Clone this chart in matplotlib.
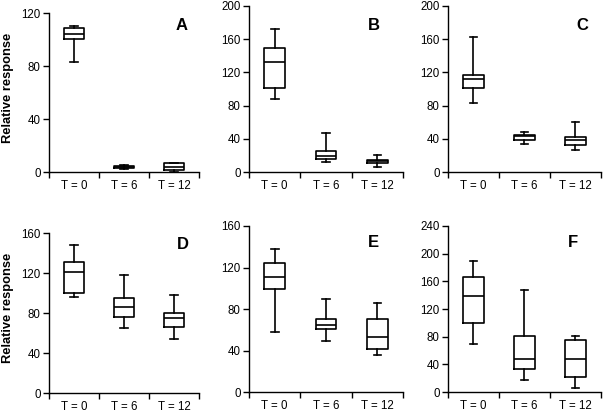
import matplotlib
matplotlib.use("Agg")
import matplotlib.pyplot as plt
from matplotlib.ticker import FixedLocator

plt.rcParams['font.family'] = ['Liberation Sans', 'DejaVu Sans']

groups = ["T = 0", "T = 6", "T = 12"]

# five-number summaries per group: [whisker low, q1, median, q3, whisker high]
stats_A = [[83, 100.5, 104.5, 109, 110], [2, 3, 3.5, 4.5, 5], [0, 1.5, 3.5, 6.5, 7]]
stats_B = [[88, 101, 133, 149, 172], [12.5, 15.3, 19.3, 25.4, 47.5], [6, 11, 13, 14, 21]]
stats_C = [[83, 101, 112.5, 116.5, 162.5], [33.5, 38.7, 43, 45, 48.4], [26, 32, 38, 42, 59.7]]
stats_D = [[96.4, 99.7, 121.2, 131.2, 148.3], [65.3, 76.3, 85.7, 95.4, 117.8], [54.2, 66.3, 74.6, 80.3, 98.4]]
stats_E = [[58.3, 99.2, 110.8, 124.3, 137.5], [49.3, 60.9, 65, 70.5, 89.5], [36, 41.5, 52.8, 70.5, 86]]
stats_F = [[69, 100.4, 139, 165.6, 188.8], [16.9, 33.3, 47.3, 80.6, 147.3], [5.8, 22.2, 47.3, 75.3, 80.6]]

panels = [
    # letter, stats, ymax, ystep, axes rect, letter pos
    ("A", stats_A, 120, 40, [0.0811, 0.5835, 0.2483, 0.385], (0.887, 0.92)),
    ("B", stats_B, 200, 40, [0.4123, 0.5835, 0.255, 0.402], (0.81, 0.88)),
    ("C", stats_C, 200, 40, [0.7417, 0.5835, 0.253, 0.402], (0.88, 0.88)),
    ("D", stats_D, 160, 40, [0.0811, 0.0484, 0.2483, 0.387], (0.89, 0.93)),
    ("E", stats_E, 160, 40, [0.4123, 0.0508, 0.255, 0.402], (0.81, 0.90)),
    ("F", stats_F, 240, 40, [0.7417, 0.0508, 0.253, 0.402], (0.82, 0.90)),
]

fig = plt.figure(figsize=(6.04, 4.13), dpi=100)

for letter, stats, ymax, ystep, rect, lpos in panels:
    ax = fig.add_axes(rect)
    bxp_stats = []
    for s, name in zip(stats, groups):
        bxp_stats.append({"whislo": s[0], "q1": s[1], "med": s[2], "q3": s[3],
                          "whishi": s[4], "label": name, "fliers": []})
    lw = 1.2
    ax.bxp(bxp_stats, positions=[1, 2, 3], widths=0.4, showfliers=False,
           boxprops=dict(color="black", linewidth=lw),
           medianprops=dict(color="black", linewidth=lw),
           whiskerprops=dict(color="black", linewidth=lw),
           capprops=dict(color="black", linewidth=lw),
           capwidths=0.15)
    ax.set_xlim(0.5, 3.5)
    ax.set_ylim(0, ymax)
    ax.set_yticks(range(0, ymax + 1, ystep))
    ax.set_xticks([1, 2, 3])
    ax.set_xticklabels(groups)
    ax.xaxis.set_minor_locator(FixedLocator([0.5, 1.5, 2.5, 3.5]))
    ax.tick_params(axis="x", which="major", length=0, labelsize=8.3, pad=6)
    ax.tick_params(axis="x", which="minor", length=4, width=1, direction="out")
    ax.tick_params(axis="y", length=4, width=1, labelsize=8.3, pad=2)
    for side in ["top", "right"]:
        ax.spines[side].set_visible(False)
    for side in ["left", "bottom"]:
        ax.spines[side].set_linewidth(1)
    ax.text(lpos[0], lpos[1], letter, transform=ax.transAxes, fontsize=12,
            fontweight="bold", ha="center", va="center")

fig.text(0.014, 1 - 88 / 413, "Relative response", rotation=90, fontsize=9.3,
         fontweight="bold", ha="center", va="center")
fig.text(0.014, 1 - 308 / 413, "Relative response", rotation=90, fontsize=9.3,
         fontweight="bold", ha="center", va="center")

fig.savefig("out.png", dpi=100)
